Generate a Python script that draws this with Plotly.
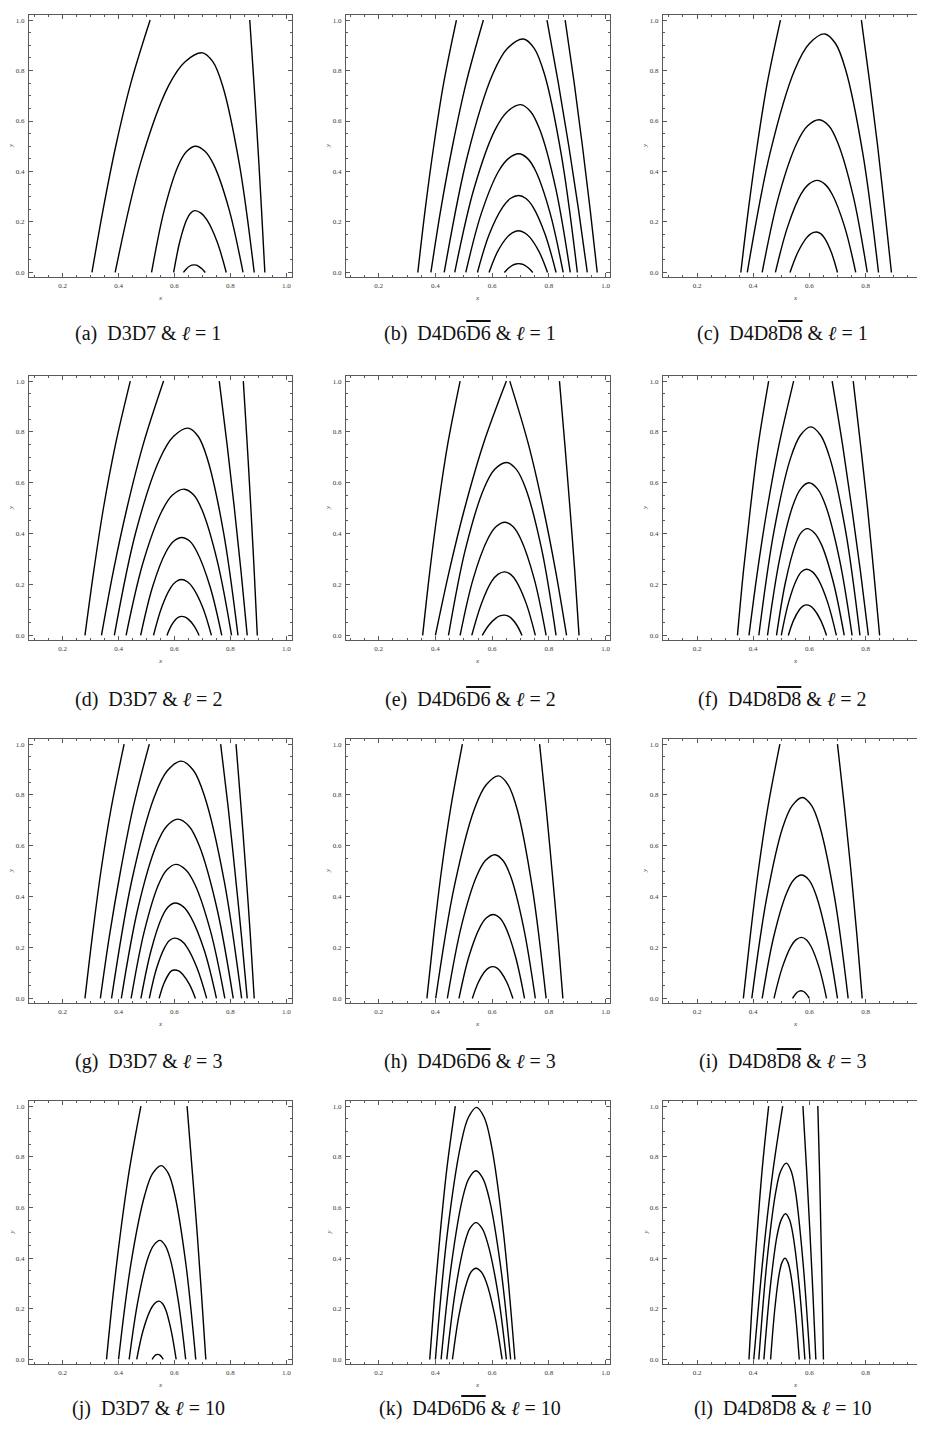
import plotly.graph_objects as go

# ---- data: each curve is (x values, y values) ----
PANEL_A = [
    ([.305, .345, .390, .444, .513], [0, .25, .5, .75, 1]),
    ([.388, .479, .579, .638, .70, .737, .772, .831, .885], [0, .435, .74, .835, .87, .835, .74, .435, 0]),
    ([.518, .564, .614, .644, .675, .709, .741, .795, .845], [0, .25, .425, .48, .50, .48, .425, .25, 0]),
    ([.597, .619, .643, .657, .672, .695, .716, .752, .785], [0, .1225, .208, .235, .245, .235, .208, .1225, 0]),
    ([.632, .643, .655, .662, .67, .678, .685, .698, .71], [0, .015, .0255, .0288, .03, .0288, .0255, .015, 0]),
    ([.923, .911, .898, .884, .869], [0, .25, .5, .75, 1]),
]
PANEL_B = [
    ([.338, .364, .394, .429, .474], [0, .25, .5, .75, 1]),
    ([.384, .419, .460, .508, .569], [0, .25, .5, .75, 1]),
    ([.431, .513, .602, .654, .71, .748, .784, .844, .90], [0, .4625, .786, .888, .925, .888, .786, .4625, 0]),
    ([.468, .536, .61, .654, .70, .735, .768, .824, .875], [0, .3325, .565, .638, .665, .638, .565, .3325, 0]),
    ([.507, .562, .622, .657, .694, .725, .754, .804, .85], [0, .235, .40, .451, .47, .451, .40, .235, 0]),
    ([.548, .59, .637, .664, .693, .719, .744, .786, .825], [0, .1525, .259, .293, .305, .293, .259, .1525, 0]),
    ([.589, .619, .653, .672, .693, .713, .732, .765, .795], [0, .0825, .14, .158, .165, .158, .14, .0825, 0]),
    ([.643, .658, .674, .683, .693, .703, .712, .728, .743], [0, .0175, .03, .0336, .035, .0336, .03, .0175, 0]),
    ([.935, .904, .870, .833, .793], [0, .25, .5, .75, 1]),
    ([.97, .945, .918, .889, .857], [0, .25, .5, .75, 1]),
]
PANEL_C = [
    ([.356, .383, .414, .450, .497], [0, .25, .5, .75, 1]),
    ([.379, .46, .548, .60, .655, .693, .729, .79, .846], [0, .4725, .803, .907, .945, .907, .803, .4725, 0]),
    ([.432, .491, .556, .594, .635, .669, .701, .756, .806], [0, .3025, .514, .581, .605, .581, .514, .3025, 0]),
    ([.479, .523, .57, .598, .628, .655, .681, .725, .765], [0, .1825, .31, .35, .365, .35, .31, .1825, 0]),
    ([.531, .559, .589, .606, .625, .64, .654, .678, .70], [0, .08, .136, .154, .16, .154, .136, .08, 0]),
    ([.892, .868, .843, .815, .785], [0, .25, .5, .75, 1]),
]
PANEL_D = [
    ([.28, .311, .346, .389, .442], [0, .25, .5, .75, 1]),
    ([.339, .381, .43, .488, .561], [0, .25, .5, .75, 1]),
    ([.385, .462, .547, .596, .649, .685, .718, .775, .827], [0, .4075, .693, .782, .815, .782, .693, .4075, 0]),
    ([.427, .488, .555, .593, .635, .669, .70, .754, .804], [0, .2875, .489, .552, .575, .552, .489, .2875, 0]),
    ([.479, .522, .569, .597, .626, .655, .681, .727, .769], [0, .1925, .327, .37, .385, .37, .327, .1925, 0]),
    ([.525, .554, .586, .605, .625, .646, .666, .701, .732], [0, .11, .187, .211, .22, .211, .187, .11, 0]),
    ([.573, .588, .605, .615, .625, .638, .649, .67, .688], [0, .0375, .064, .072, .075, .072, .064, .0375, 0]),
    ([.86, .838, .814, .788, .76], [0, .25, .5, .75, 1]),
    ([.896, .885, .873, .86, .846], [0, .25, .5, .75, 1]),
]
PANEL_E = [
    ([.355, .38, .409, .443, .487], [0, .25, .5, .75, 1]),
    ([.40, .448, .503, .568, .65], [0, .25, .5, .75, 1]),
    ([.446, .506, .571, .609, .65, .685, .718, .774, .825], [0, .34, .578, .653, .68, .653, .578, .34, 0]),
    ([.487, .533, .584, .613, .645, .674, .701, .748, .79], [0, .2225, .378, .427, .445, .427, .378, .2225, 0]),
    ([.528, .562, .598, .62, .643, .665, .685, .72, .752], [0, .125, .2125, .24, .25, .24, .2125, .125, 0]),
    ([.565, .588, .613, .627, .643, .655, .667, .687, .705], [0, .04, .068, .077, .08, .077, .068, .04, 0]),
    ([.862, .824, .78, .728, .662], [0, .25, .5, .75, 1]),
    ([.906, .891, .874, .856, .837], [0, .25, .5, .75, 1]),
]
PANEL_F = [
    ([.344, .365, .39, .418, .455], [0, .25, .5, .75, 1]),
    ([.385, .415, .45, .492, .544], [0, .25, .5, .75, 1]),
    ([.42, .474, .533, .568, .605, .64, .673, .729, .78], [0, .41, .697, .787, .82, .787, .697, .41, 0]),
    ([.451, .494, .541, .569, .598, .629, .658, .707, .752], [0, .30, .51, .576, .60, .576, .51, .30, 0]),
    ([.483, .515, .55, .57, .592, .618, .643, .685, .724], [0, .21, .357, .403, .42, .403, .357, .21, 0]),
    ([.50, .526, .555, .572, .59, .611, .631, .665, .696], [0, .13, .221, .25, .26, .25, .221, .13, 0]),
    ([.525, .544, .565, .577, .59, .604, .617, .64, .661], [0, .06, .102, .115, .12, .115, .102, .06, 0]),
    ([.81, .782, .751, .718, .681], [0, .25, .5, .75, 1]),
    ([.85, .829, .807, .782, .756], [0, .25, .5, .75, 1]),
]
PANEL_G = [
    ([.28, .307, .337, .374, .42], [0, .25, .5, .75, 1]),
    ([.335, .368, .407, .452, .51], [0, .25, .5, .75, 1]),
    ([.375, .448, .528, .575, .625, .668, .708, .777, .84], [0, .4665, .793, .896, .933, .896, .793, .4665, 0]),
    ([.41, .469, .534, .572, .612, .652, .689, .752, .81], [0, .3525, .599, .677, .705, .677, .599, .3525, 0]),
    ([.445, .492, .543, .573, .605, .64, .673, .729, .78], [0, .2635, .448, .506, .527, .506, .448, .2635, 0]),
    ([.48, .516, .555, .578, .602, .632, .659, .707, .75], [0, .1875, .319, .36, .375, .36, .319, .1875, 0]),
    ([.51, .536, .565, .582, .60, .623, .645, .681, .715], [0, .1185, .201, .228, .237, .228, .201, .1185, 0]),
    ([.545, .561, .579, .589, .60, .615, .629, .653, .675], [0, .056, .095, .108, .112, .108, .095, .056, 0]),
    ([.86, .839, .816, .792, .765], [0, .25, .5, .75, 1]),
    ([.885, .871, .855, .838, .82], [0, .25, .5, .75, 1]),
]
PANEL_H = [
    ([.37, .394, .421, .454, .495], [0, .25, .5, .75, 1]),
    ([.401, .466, .537, .579, .623, .656, .688, .741, .79], [0, .4375, .744, .84, .875, .84, .744, .4375, 0]),
    ([.442, .491, .545, .576, .61, .638, .665, .71, .752], [0, .2825, .48, .542, .565, .542, .48, .2825, 0]),
    ([.483, .518, .557, .58, .604, .626, .647, .682, .714], [0, .165, .2805, .317, .33, .317, .2805, .165, 0]),
    ([.53, .551, .574, .588, .602, .616, .629, .652, .673], [0, .0625, .106, .12, .125, .12, .106, .0625, 0]),
    ([.849, .831, .811, .79, .767], [0, .25, .5, .75, 1]),
]
PANEL_I = [
    ([.365, .39, .418, .452, .495], [0, .25, .5, .75, 1]),
    ([.395, .448, .505, .539, .575, .608, .638, .69, .738], [0, .395, .672, .758, .79, .758, .672, .395, 0]),
    ([.432, .473, .518, .544, .572, .598, .622, .662, .70], [0, .2425, .412, .466, .485, .466, .412, .2425, 0]),
    ([.474, .503, .534, .552, .572, .59, .606, .635, .661], [0, .12, .204, .23, .24, .23, .204, .12, 0]),
    ([.54, .549, .558, .564, .57, .576, .582, .591, .60], [0, .015, .0255, .0288, .03, .0288, .0255, .015, 0]),
    ([.788, .769, .748, .725, .70], [0, .25, .5, .75, 1]),
]
PANEL_J = [
    ([.357, .38, .407, .439, .48], [0, .25, .5, .75, 1]),
    ([.40, .445, .494, .522, .553, .578, .601, .64, .676], [0, .3825, .65, .734, .765, .734, .65, .3825, 0]),
    ([.438, .47, .505, .526, .548, .566, .584, .613, .64], [0, .235, .40, .451, .47, .451, .40, .235, 0]),
    ([.465, .488, .514, .529, .545, .557, .569, .588, .606], [0, .115, .1955, .221, .23, .221, .1955, .115, 0]),
    ([.52, .526, .532, .536, .54, .544, .548, .554, .56], [0, .01, .017, .0192, .02, .0192, .017, .01, 0]),
    ([.712, .697, .681, .663, .645], [0, .25, .5, .75, 1]),
]
PANEL_K = [
    ([.38, .397, .417, .44, .47], [0, .25, .5, .75, 1]),
    ([.40, .442, .489, .516, .545, .572, .597, .64, .68], [0, .4975, .846, .955, .995, .955, .846, .4975, 0]),
    ([.42, .456, .495, .518, .543, .567, .59, .629, .665], [0, .3725, .633, .715, .745, .715, .633, .3725, 0]),
    ([.44, .47, .503, .522, .543, .564, .584, .619, .65], [0, .27, .459, .518, .54, .518, .459, .27, 0]),
    ([.46, .484, .511, .526, .543, .561, .579, .608, .635], [0, .18, .306, .346, .36, .346, .306, .18, 0]),
]
PANEL_L = [
    ([.385, .398, .414, .432, .455], [0, .25, .5, .75, 1]),
    ([.402, .422, .444, .471, .505], [0, .25, .5, .75, 1]),
    ([.42, .449, .48, .498, .518, .535, .551, .577, .602], [0, .3875, .659, .744, .775, .744, .659, .3875, 0]),
    ([.438, .461, .485, .50, .515, .529, .542, .564, .584], [0, .2875, .489, .552, .575, .552, .489, .2875, 0]),
    ([.462, .477, .493, .503, .513, .523, .533, .549, .564], [0, .20, .34, .384, .40, .384, .34, .20, 0]),
    ([.623, .613, .602, .59, .577], [0, .25, .5, .75, 1]),
    ([.65, .646, .641, .636, .63], [0, .25, .5, .75, 1]),
]

PANELS = [PANEL_A, PANEL_B, PANEL_C, PANEL_D, PANEL_E, PANEL_F,
          PANEL_G, PANEL_H, PANEL_I, PANEL_J, PANEL_K, PANEL_L]

OV = '<span style="text-decoration:overline">'
CAPTIONS = [
    '(a)  D3D7 &amp; <i>ℓ</i> = 1',
    f'(b)  D4D6{OV}D6</span> &amp; <i>ℓ</i> = 1',
    f'(c)  D4D8{OV}D8</span> &amp; <i>ℓ</i> = 1',
    '(d)  D3D7 &amp; <i>ℓ</i> = 2',
    f'(e)  D4D6{OV}D6</span> &amp; <i>ℓ</i> = 2',
    f'(f)  D4D8{OV}D8</span> &amp; <i>ℓ</i> = 2',
    '(g)  D3D7 &amp; <i>ℓ</i> = 3',
    f'(h)  D4D6{OV}D6</span> &amp; <i>ℓ</i> = 3',
    f'(i)  D4D8{OV}D8</span> &amp; <i>ℓ</i> = 3',
    '(j)  D3D7 &amp; <i>ℓ</i> = 10',
    f'(k)  D4D6{OV}D6</span> &amp; <i>ℓ</i> = 10',
    f'(l)  D4D8{OV}D8</span> &amp; <i>ℓ</i> = 10',
]

# ---- page geometry, in page pixels (the html body adds an 8px margin) ----
PAD = 8
W, H = 925 - 2 * PAD, 1434 - 2 * PAD
COL_PX = [(29, 292), (346, 610), (663, 927)]
ROW_PX = [(15, 277), (376, 640), (739, 1003), (1101, 1364)]
CAP_X = [148, 470, 782]
CAP_DY = [57, 59, 58, 44]
X_RANGES = [[0.08, 1.02], [0.085, 1.015], [0.079, 0.983]]
Y_RANGE = [-0.018, 1.02]

SERIF = 'Liberation Serif, Times New Roman, serif'
FRAME = '#5a5a5a'
LABEL = '#3a3a3a'


def fx(px):
    return (px - PAD) / W


def fy(px):
    return 1 - (px - PAD) / H


fig = go.Figure()
layout = dict(
    width=W, height=H,
    margin=dict(l=0, r=0, t=0, b=0),
    paper_bgcolor='white', plot_bgcolor='white',
    showlegend=False,
    font=dict(family=SERIF, color=LABEL, size=7),
)
annotations = []

for i, curves in enumerate(PANELS):
    r, c = divmod(i, 3)
    n = '' if i == 0 else str(i + 1)
    x0, x1 = COL_PX[c]
    y0, y1 = ROW_PX[r]
    for xs, ys in curves:
        fig.add_trace(go.Scatter(
            x=xs, y=ys, mode='lines', xaxis='x' + n, yaxis='y' + n,
            line=dict(color='black', width=1.4, shape='spline', smoothing=1.0),
            hoverinfo='skip',
        ))
    common = dict(
        showgrid=False, zeroline=False, showline=True, linecolor=FRAME, linewidth=1,
        ticks='inside', ticklen=4, tickcolor=FRAME, tickwidth=1,
        dtick=0.2, tick0=0, tickformat='.1f',
        tickfont=dict(family=SERIF, size=7, color=LABEL),
        minor=dict(dtick=0.05, tick0=0, ticks='inside', ticklen=2, tickcolor=FRAME),
        ticklabelstandoff=2,
    )
    layout['xaxis' + n] = dict(
        common, domain=[fx(x0), min(fx(x1), 1.0)], range=X_RANGES[c],
        anchor='y' + n, mirror='allticks',
    )
    layout['yaxis' + n] = dict(
        common, domain=[fy(y1), fy(y0)], range=Y_RANGE,
        anchor='x' + n, mirror='allticks' if c < 2 else False,
    )
    annotations.append(dict(
        x=fx((x0 + x1) / 2), y=fy(y1 + 21), xref='paper', yref='paper',
        xanchor='center', yanchor='middle',
        text='<i>x</i>', showarrow=False, font=dict(family=SERIF, size=7, color=LABEL),
    ))
    annotations.append(dict(
        x=fx(x0 - 18), y=fy((y0 + y1) / 2), xref='paper', yref='paper',
        xanchor='center', yanchor='middle',
        text='<i>y</i>', showarrow=False, textangle=-90,
        font=dict(family=SERIF, size=7, color=LABEL),
    ))
    annotations.append(dict(
        x=fx(CAP_X[c]), y=fy(y1 + CAP_DY[r]), xref='paper', yref='paper',
        xanchor='center', yanchor='middle',
        text=CAPTIONS[i], showarrow=False,
        font=dict(family=SERIF, size=20, color='#111111'),
    ))

layout['annotations'] = annotations
fig.update_layout(**layout)
fig.write_html('out.html')
